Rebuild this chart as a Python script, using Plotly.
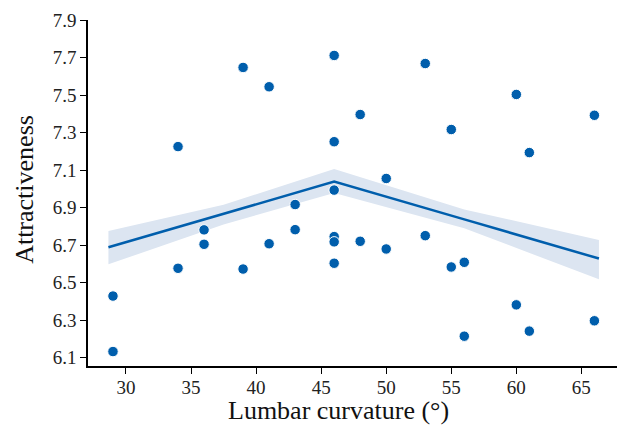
import plotly.graph_objects as go

# Scatter data: lumbar curvature (deg) vs attractiveness
curvature = [29, 29, 34, 34, 36, 36, 39, 39, 41, 41, 43, 43,
             46, 46, 46, 46, 46, 46, 48, 48, 50, 50, 53, 53,
             55, 55, 56, 56, 60, 60, 61, 61, 66, 66]
attractiveness = [6.428, 6.132, 6.576, 7.225, 6.781, 6.704, 6.572, 7.647, 6.707, 7.544, 6.916, 6.782,
                  7.711, 7.251, 6.993, 6.745, 6.717, 6.603, 7.396, 6.720, 7.055, 6.679, 7.668, 6.750,
                  7.316, 6.583, 6.608, 6.214, 7.503, 6.381, 7.193, 6.241, 7.392, 6.296]

# Fitted (piecewise) regression line and its confidence band
fit_x = [28.65, 37.5, 46, 56, 66.35]
fit_y = [6.688, 6.865, 7.038, 6.837, 6.628]
ci_upper = [6.775, 6.915, 7.105, 6.890, 6.727]
ci_lower = [6.597, 6.810, 6.977, 6.790, 6.517]

x_ticks = [30, 35, 40, 45, 50, 55, 60, 65]
y_ticks = [6.1, 6.3, 6.5, 6.7, 6.9, 7.1, 7.3, 7.5, 7.7, 7.9]

BLUE = "#005eac"
BAND = "#dce5f1"
FONT = "Liberation Serif, Times New Roman, serif"

fig = go.Figure()
fig.add_trace(go.Scatter(
    x=fit_x + fit_x[::-1], y=ci_upper + ci_lower[::-1],
    fill="toself", fillcolor=BAND, line=dict(width=0),
    mode="lines", hoverinfo="skip", showlegend=False))
fig.add_trace(go.Scatter(
    x=fit_x, y=fit_y, mode="lines",
    line=dict(color=BLUE, width=2.5), showlegend=False))
fig.add_trace(go.Scatter(
    x=curvature, y=attractiveness, mode="markers",
    marker=dict(color=BLUE, size=10.5, line=dict(color="white", width=1)),
    showlegend=False))

axis_common = dict(
    showgrid=False, zeroline=False, showline=True, linecolor="black", linewidth=1.5,
    ticks="outside", ticklen=6, tickwidth=1.2, tickcolor="black",
    tickfont=dict(family=FONT, size=19, color="#222"))

fig.update_xaxes(range=[27.08, 68.2], tickvals=x_ticks,
                 ticktext=[str(v) for v in x_ticks], ticklabelstandoff=-3, **axis_common)
fig.update_yaxes(range=[6.055, 7.9], tickvals=y_ticks,
                 ticktext=[f"{v:.1f}" for v in y_ticks], **axis_common)

# The page body adds an 8px offset; size the figure so the plot area lands in place.
fig.update_layout(
    width=617, height=419,
    margin=dict(l=80, r=2, t=12, b=61),
    plot_bgcolor="white", paper_bgcolor="white",
    font=dict(family=FONT, color="#111"),
    annotations=[
        dict(text="Lumbar curvature (°)", xref="paper", yref="paper",
             x=(338.7 - 88) / 535, y=-0.128, xanchor="center", yanchor="middle",
             showarrow=False, font=dict(family=FONT, size=26, color="#111")),
        dict(text="Attractiveness", xref="paper", yref="paper",
             x=-0.118, y=0.5116, xanchor="center", yanchor="middle", textangle=-90,
             showarrow=False, font=dict(family=FONT, size=26, color="#111")),
    ],
)

fig.write_html("out.html")
